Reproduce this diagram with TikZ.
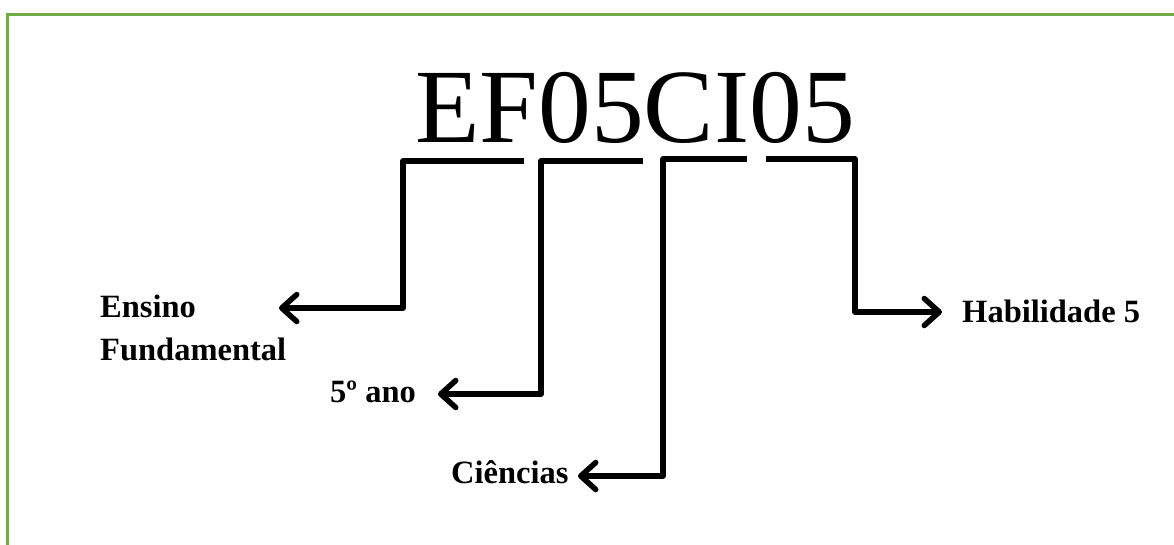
\documentclass[tikz,border=0pt]{standalone}
\usepackage{fontspec}
\setmainfont{Liberation Serif}
\usetikzlibrary{arrows.meta}
\definecolor{framegreen}{HTML}{70AD47}
\tikzset{
  frameline/.style={draw=framegreen, line width=3pt},
  codetext/.style={anchor=base west, inner sep=0pt, font=\fontsize{105.5}{105.5}\selectfont},
  labeltext/.style={anchor=base west, inner sep=0pt, font=\fontsize{32.5}{43}\selectfont\bfseries, align=left},
  conn/.style={draw=black, line width=5.5pt, line join=round, line cap=butt,
    -{Straight Barb[length=15pt,width=27pt,line cap=round,line join=round]}},
}
\begin{document}
\begin{tikzpicture}[x=1pt,y=-1pt]
\useasboundingbox (0,0) rectangle (1174,544);

% open frame: top and left edges
\draw[frameline] (1176,14) -- (7,14) -- (7,546);

% the code
\node[codetext] (code) at (415,142) {EF05CI05};

% labels (a two-line node sits on the baseline of its last line)
\node[labeltext] (ensino) at (100,360) {Ensino\\Fundamental};
\node[labeltext] (ano) at (330,402) {5º ano};
\node[labeltext] (cien) at (451,483) {Ciências};
\node[labeltext] (hab) at (962,322) {Habilidade 5};

% bracket start points under the code and arrow tips near the labels
\coordinate (s1) at (524,161);
\coordinate (c1) at (403,161);
\coordinate (d1) at (403,308);
\coordinate (t1) at (279,308);

\coordinate (s2) at (643,161);
\coordinate (c2) at (541,161);
\coordinate (d2) at (541,394);
\coordinate (t2) at (438,394);

\coordinate (s3) at (747,159);
\coordinate (c3) at (663,159);
\coordinate (d3) at (663,476);
\coordinate (t3) at (578,476);

\coordinate (s4) at (766,159);
\coordinate (c4) at (855,159);
\coordinate (d4) at (855,312);
\coordinate (t4) at (942,312);

\draw[conn] (s1) -- (c1) -- (d1) -- (t1);
\draw[conn] (s2) -- (c2) -- (d2) -- (t2);
\draw[conn] (s3) -- (c3) -- (d3) -- (t3);
\draw[conn] (s4) -- (c4) -- (d4) -- (t4);
\end{tikzpicture}
\end{document}
